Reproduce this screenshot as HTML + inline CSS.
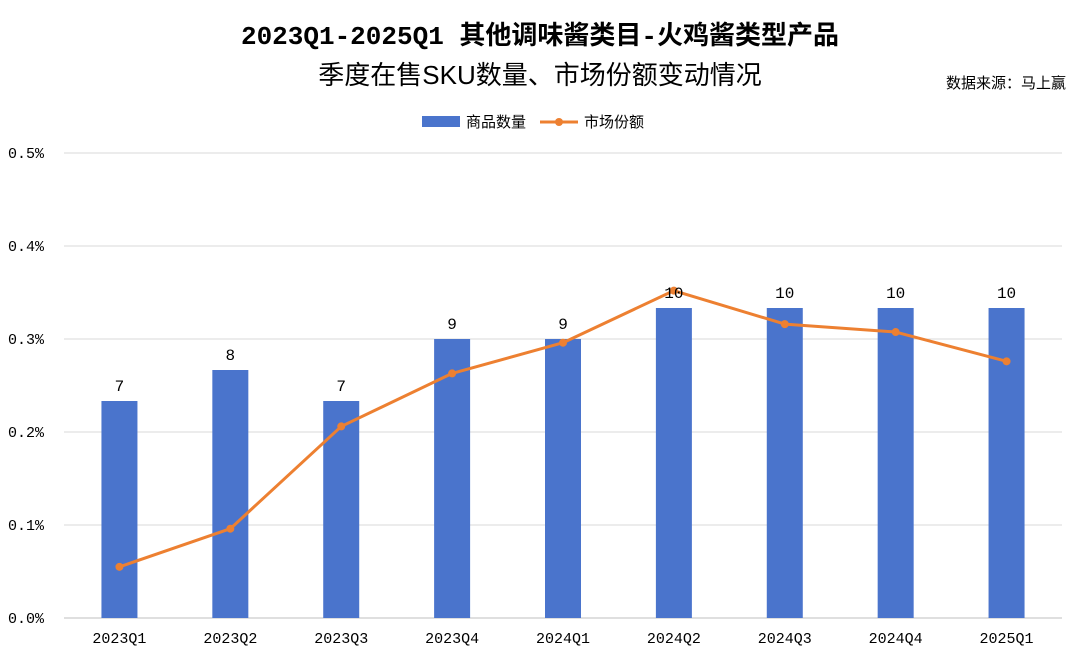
<!DOCTYPE html>
<html><head><meta charset="utf-8"><style>
body{margin:0;background:#fff;width:1080px;height:658px;overflow:hidden;font-family:"Liberation Sans","Noto Sans CJK SC",sans-serif;}
.mono{font-family:"Liberation Mono","Noto Sans CJK SC",monospace;}
</style></head><body>
<svg id="chart" width="1080" height="658" xmlns="http://www.w3.org/2000/svg">
<text x="540" y="44" text-anchor="middle" font-size="26" fill="#000" font-weight="bold" font-family="Liberation Mono,Noto Sans CJK SC,sans-serif">2023Q1-2025Q1 其他调味酱类目-火鸡酱类型产品</text>
<text x="540" y="84" text-anchor="middle" font-size="26" fill="#000" font-family="Liberation Sans,Noto Sans CJK SC,sans-serif">季度在售SKU数量、市场份额变动情况</text>
<text x="1066" y="88" text-anchor="end" font-size="15" fill="#000">数据来源：马上赢</text>
<g>
<rect x="422" y="116" width="38" height="11" fill="#4a74cc"/>
<text x="466" y="127" font-size="15">商品数量</text>
<line x1="540" y1="122" x2="578" y2="122" stroke="#ed8031" stroke-width="3"/>
<circle cx="559" cy="122" r="4" fill="#ed8031"/>
<text x="584" y="127" font-size="15">市场份额</text>
</g>
<g id="grid"></g><g id="bars"></g><g id="line"></g><g id="labels"></g>
</svg>
<script>
const categories=["2023Q1","2023Q2","2023Q3","2023Q4","2024Q1","2024Q2","2024Q3","2024Q4","2025Q1"];
const skuCounts=[7,8,7,9,9,10,10,10,10];
const marketShare=[0.055,0.096,0.206,0.263,0.296,0.352,0.316,0.3075,0.276];
const yTicks=[0,0.1,0.2,0.3,0.4,0.5];
const yTickLabels=["0.0%","0.1%","0.2%","0.3%","0.4%","0.5%"];
const NS="http://www.w3.org/2000/svg";
const L=64,R=1062,T=153,B=618;
const step=(R-L)/categories.length;
const xc=i=>L+step*(i+0.5);
const yShare=v=>B-(v/0.5)*(B-T);
const yCount=v=>B-(v/15)*(B-T);
function mk(tag,attrs,parent){const e=document.createElementNS(NS,tag);for(const k in attrs)e.setAttribute(k,attrs[k]);parent.appendChild(e);return e;}
const grid=document.getElementById('grid'),bars=document.getElementById('bars'),line=document.getElementById('line'),labels=document.getElementById('labels');
yTicks.forEach((t,i)=>{
 const y=yShare(t);
 const g=mk('line',{x1:L,x2:R,y1:y,y2:y,stroke:i===0?'#bfbfbf':'#d9d9d9','stroke-width':1},grid);
 
 
 const tx=mk('text',{x:8,y:y+5,'font-size':15,fill:'#000',class:'mono'},grid);
 tx.textContent=yTickLabels[i];
 
 
});
categories.forEach((c,i)=>{
 const x=xc(i);
 const b=mk('rect',{x:x-18,y:yCount(skuCounts[i]),width:36,height:B-yCount(skuCounts[i]),fill:'#4a74cc'},bars);
 
 
 const vl=mk('text',{x:x,y:yCount(skuCounts[i])-10,'text-anchor':'middle','font-size':16,fill:'#000',class:'mono'},labels);
 vl.textContent=skuCounts[i];
 
 
 const xl=mk('text',{x:x,y:643,'text-anchor':'middle','font-size':15,fill:'#000',class:'mono'},labels);
 xl.textContent=c;
 
 
});
const pts=marketShare.map((v,i)=>xc(i)+','+yShare(v)).join(' ');
const pl=mk('polyline',{points:pts,fill:'none',stroke:'#ed8031','stroke-width':3,'stroke-linejoin':'round'},line);


marketShare.forEach((v,i)=>{
 const p=mk('circle',{cx:xc(i),cy:yShare(v),r:4,fill:'#ed8031'},line);
 
 
});
</script>
</body></html>
